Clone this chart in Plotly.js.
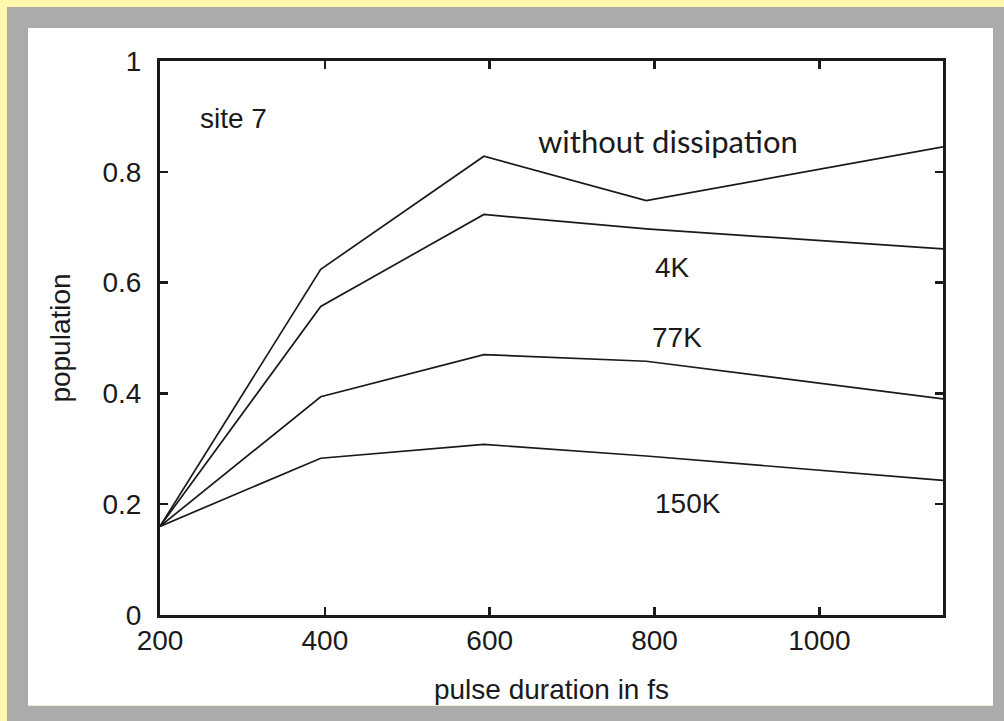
<!DOCTYPE html>
<html>
<head>
<meta charset="utf-8">
<script src="https://cdn.plot.ly/plotly-3.0.1.min.js"></script>
<style>
  html, body { margin: 0; padding: 0; }
  body { width: 1004px; height: 721px; background: #FFF9B0; position: relative; overflow: hidden; }
  #frame { position: absolute; left: 7px; top: 7px; width: 997px; height: 714px; background: #ABABAB; }
  #chart { position: absolute; left: 28px; top: 28px; width: 965px; height: 677px; background: #ffffff; border-bottom: 1px solid #F2EFC8; }
</style>
</head>
<body>
<div id="frame"></div>
<div id="chart"></div>
<script>
// pulse duration in fs
const pulse = [200, 395, 593, 790, 1150];
// population at site 7
const withoutDissipation = [0.160, 0.624, 0.828, 0.748, 0.845];
const pop4K   = [0.160, 0.557, 0.723, 0.697, 0.661];
const pop77K  = [0.160, 0.394, 0.470, 0.458, 0.390];
const pop150K = [0.160, 0.283, 0.308, 0.287, 0.243];
const seriesNames = ["without dissipation", "4K", "77K", "150K"];
const xTicks = [200, 400, 600, 800, 1000];
const yTicks = [0, 0.2, 0.4, 0.6, 0.8, 1];
const yTickText = ["0", "0.2", "0.4", "0.6", "0.8", "1"];

const allSeries = [withoutDissipation, pop4K, pop77K, pop150K];
const traces = allSeries.map((ys, i) => ({
  x: pulse, y: ys, name: seriesNames[i], type: 'scatter', mode: 'lines',
  line: { color: '#1a1a1a', width: 1.7 }, hoverinfo: 'skip'
}));

const font = { family: 'Liberation Sans, Arial, sans-serif', size: 28, color: '#1a1a1a' };

const layout = {
  width: 965, height: 677,
  margin: { l: 132, t: 33, r: 50, b: 90 },
  paper_bgcolor: '#ffffff', plot_bgcolor: '#ffffff',
  showlegend: false,
  font: font,
  xaxis: {
    range: [200, 1150], tickvals: xTicks, ticktext: xTicks.map(String),
    ticks: 'inside', ticklen: 8, tickwidth: 2.5, tickcolor: '#1a1a1a',
    showline: true, linecolor: '#1a1a1a', linewidth: 3, mirror: 'ticks',
    showgrid: false, zeroline: false, automargin: false,
    tickfont: font, ticklabelstandoff: -2,
    title: { text: 'pulse duration in fs', font: font, standoff: 25 }
  },
  yaxis: {
    range: [0, 1], tickvals: yTicks, ticktext: yTickText,
    ticks: 'inside', ticklen: 8, tickwidth: 2.5, tickcolor: '#1a1a1a',
    showline: true, linecolor: '#1a1a1a', linewidth: 3, mirror: 'ticks',
    showgrid: false, zeroline: false, automargin: false,
    tickfont: font, ticklabelstandoff: 10,
    title: { text: 'population', font: font, standoff: 24 }
  },
  annotations: [
    { x: 289, y: 0.897, text: 'site 7', showarrow: false, font: font },
    { x: 816, y: 0.855, text: 'without dissipation', showarrow: false,
      font: { family: 'Lato, DejaVu Sans, sans-serif', size: 31, color: '#1a1a1a' } },
    { x: 822, y: 0.627, text: '4K', showarrow: false, font: font },
    { x: 827, y: 0.501, text: '77K', showarrow: false, font: font },
    { x: 841, y: 0.201, text: '150K', showarrow: false, font: font }
  ]
};

Plotly.newPlot('chart', traces, layout, { displayModeBar: false, staticPlot: true });
</script>
</body>
</html>
